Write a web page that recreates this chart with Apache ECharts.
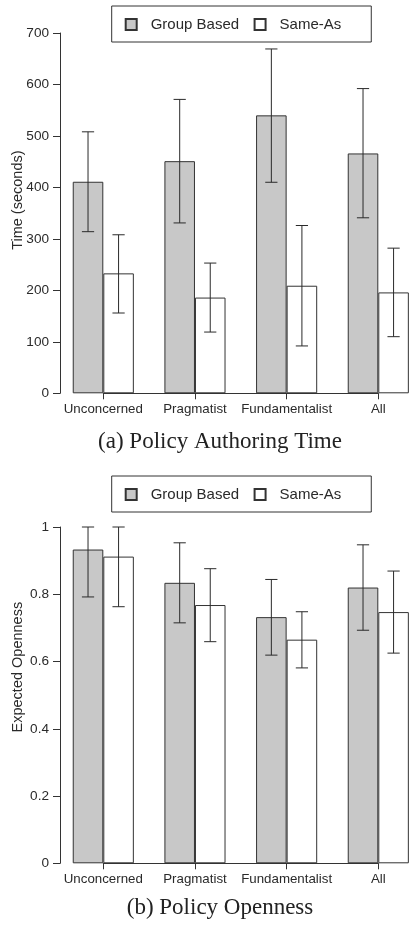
<!DOCTYPE html>
<html><head><meta charset="utf-8">
<script src="https://cdn.jsdelivr.net/npm/echarts@6/dist/echarts.min.js"></script>
<style>html,body{margin:0;padding:0;background:#fff}#c{width:409px;height:927px}</style>
</head><body><div id="c"></div>
<script>
const categories = ['Unconcerned', 'Pragmatist', 'Fundamentalist', 'All'];
const seriesNames = ['Group Based', 'Same-As'];
const captions = ['(a) Policy Authoring Time', '(b) Policy Openness'];
const yNames = ['Time (seconds)', 'Expected Openness'];

// (a) Policy Authoring Time
const timeTicks = [0, 100, 200, 300, 400, 500, 600, 700];
const timeGroupMean = [411, 451, 540, 466];
const timeGroupLow  = [314, 331, 410, 341];
const timeGroupHigh = [508, 571, 669, 592];
const timeSameMean  = [233, 186, 209, 196];
const timeSameLow   = [156, 119, 92, 110];
const timeSameHigh  = [308, 253, 326, 282];

// (b) Policy Openness
const openTicks = [0, 0.2, 0.4, 0.6, 0.8, 1];
const openGroupMean = [0.933, 0.834, 0.732, 0.820];
const openGroupLow  = [0.792, 0.715, 0.619, 0.693];
const openGroupHigh = [1.000, 0.953, 0.844, 0.947];
const openSameMean  = [0.912, 0.768, 0.665, 0.747];
const openSameLow   = [0.763, 0.659, 0.581, 0.625];
const openSameHigh  = [1.000, 0.876, 0.748, 0.869];

const SANS = 'Liberation Sans';
const INK = '#2a2a2a';
const FILLS = ['#c8c8c8', '#ffffff'];

function errData(lo, hi) { return lo.map((v, i) => [i, v, hi[i]]); }

function errSeries(gi, side, lo, hi) {
  return {
    type: 'custom', xAxisIndex: gi, yAxisIndex: gi, z: 5, silent: true,
    data: errData(lo, hi),
    encode: { x: 0, y: [1, 2] },
    renderItem: function (params, api) {
      const i = api.value(0);
      const a = api.coord([i, api.value(1)]);
      const b = api.coord([i, api.value(2)]);
      const bw = api.size([1, 0])[0];
      const x = a[0] + side * bw / 6;
      const c = bw / 15;
      const st = { stroke: INK, lineWidth: 1 };
      return { type: 'group', children: [
        { type: 'line', shape: { x1: x, y1: a[1], x2: x, y2: b[1] }, style: st },
        { type: 'line', shape: { x1: x - c, y1: a[1], x2: x + c, y2: a[1] }, style: st },
        { type: 'line', shape: { x1: x - c, y1: b[1], x2: x + c, y2: b[1] }, style: st }
      ]};
    }
  };
}

function barSeries(gi, k, data) {
  return {
    type: 'bar', name: seriesNames[k], xAxisIndex: gi, yAxisIndex: gi,
    data: data, barWidth: '33.333%', barGap: '0%', clip: false,
    itemStyle: { color: FILLS[k], borderColor: '#333', borderWidth: 1 }
  };
}

function xAxis(gi) {
  return {
    type: 'category', gridIndex: gi, data: categories, boundaryGap: false,
    axisLine: { show: true, lineStyle: { color: '#333', width: 1 } },
    axisTick: { show: true, length: 6, interval: 0, lineStyle: { color: '#333' } },
    axisLabel: { fontFamily: SANS, fontSize: 13.3, color: INK, margin: 10, interval: 0,
      hideOverlap: false, showMinLabel: true, showMaxLabel: true },
    splitLine: { show: false }
  };
}

function yAxis(gi, ticks, name, shift) {
  return {
    type: 'value', gridIndex: gi, min: ticks[0], max: ticks[ticks.length - 1],
    interval: ticks[1] - ticks[0], offset: 43.3,
    name: name, nameLocation: 'middle', nameGap: 35, nameMoveOverlap: false,
    nameTextStyle: { fontFamily: SANS, fontSize: 14.5, color: INK, padding: [0, 0, 0, shift] },
    axisLine: { show: true, lineStyle: { color: '#333', width: 1 } },
    axisTick: { show: true, length: 7, lineStyle: { color: '#333' } },
    axisLabel: { fontFamily: SANS, fontSize: 13.6, color: INK, margin: 11,
      formatter: v => String(+v.toFixed(2)) },
    splitLine: { show: false }
  };
}

function legend(top) {
  return {
    data: seriesNames, left: 111.7, top: top, orient: 'horizontal',
    icon: 'rect', itemWidth: 11, itemHeight: 11, itemGap: 14.5,
    padding: [11, 30, 10, 13],
    borderColor: '#333', borderWidth: 1, backgroundColor: '#fff',
    selectedMode: false,
    textStyle: { fontFamily: SANS, fontSize: 15, color: INK, padding: [0, 0, 0, 9] }
  };
}

const chart = echarts.init(document.getElementById('c'), null, { renderer: 'canvas' });
chart.setOption({
  animation: false,
  backgroundColor: '#fff',
  grid: [
    { left: 103.3, right: 30.7, top: 33, height: 360.3, outerBoundsMode: 'none', containLabel: false },
    { left: 103.3, right: 30.7, top: 527, height: 336.3, outerBoundsMode: 'none', containLabel: false }
  ],
  legend: [legend(6), legend(476)],
  xAxis: [xAxis(0), xAxis(1)],
  yAxis: [yAxis(0, timeTicks, yNames[0], 26), yAxis(1, openTicks, yNames[1], 56)],
  series: [
    barSeries(0, 0, timeGroupMean), barSeries(0, 1, timeSameMean),
    errSeries(0, -1, timeGroupLow, timeGroupHigh), errSeries(0, 1, timeSameLow, timeSameHigh),
    barSeries(1, 0, openGroupMean), barSeries(1, 1, openSameMean),
    errSeries(1, -1, openGroupLow, openGroupHigh), errSeries(1, 1, openSameLow, openSameHigh)
  ],
  graphic: [
    { type: 'text', x: 220, y: 442, style: { text: captions[0], fill: '#222',
      font: '23px "Liberation Serif"', textAlign: 'center', textVerticalAlign: 'middle' } },
    { type: 'text', x: 220, y: 908, style: { text: captions[1], fill: '#222',
      font: '23px "Liberation Serif"', textAlign: 'center', textVerticalAlign: 'middle' } }
  ]
});
</script></body></html>
